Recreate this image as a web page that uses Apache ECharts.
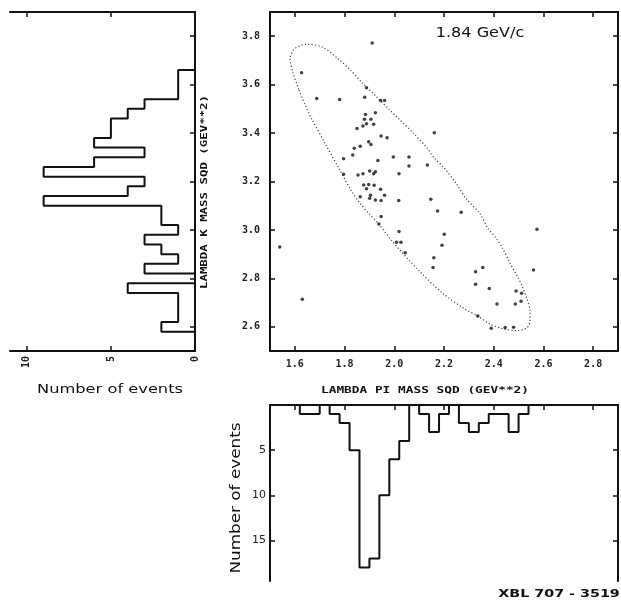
<!DOCTYPE html>
<html>
<head>
<meta charset="utf-8">
<script src="https://cdn.jsdelivr.net/npm/echarts@6/dist/echarts.min.js"></script>
<style>
  html, body { margin: 0; padding: 0; background: #fff; }
  #chart { width: 621px; height: 609px; }
</style>
</head>
<body>
<div id="chart"></div>
<script>
// Λπ and ΛK invariant mass squared (GeV^2) of each event
const lambdaPiSq = [
  1.627, 1.688, 1.780, 1.881, 1.888, 1.911, 1.945, 1.961, 1.884, 1.924,
  1.880, 1.906, 1.888, 1.917, 1.850, 1.874, 1.947, 1.971, 1.897, 1.906,
  1.863, 1.839, 1.833, 1.796, 1.934, 1.996, 2.059, 2.059, 2.133, 2.161,
  1.796, 1.854, 1.874, 1.917, 1.924, 1.901, 2.019, 1.877, 1.897, 1.919,
  1.945, 1.888, 1.863, 1.904, 1.901, 1.924, 1.947, 1.961, 2.018, 2.147,
  2.174, 1.947, 1.938, 2.019, 2.009, 2.027, 2.044, 2.159, 2.156, 2.192,
  1.539, 1.630, 2.269, 2.201, 2.574, 2.356, 2.327, 2.327, 2.382, 2.490,
  2.512, 2.560, 2.413, 2.487, 2.510, 2.336, 2.390, 2.446, 2.480
];
const lambdaKSq = [
  3.649, 3.543, 3.539, 3.548, 3.587, 3.772, 3.535, 3.535, 3.477, 3.484,
  3.457, 3.457, 3.438, 3.436, 3.419, 3.429, 3.388, 3.381, 3.364, 3.353,
  3.346, 3.337, 3.309, 3.294, 3.287, 3.301, 3.301, 3.264, 3.268, 3.401,
  3.230, 3.227, 3.232, 3.232, 3.240, 3.243, 3.232, 3.186, 3.188, 3.185,
  3.168, 3.170, 3.137, 3.143, 3.131, 3.124, 3.122, 3.143, 3.122, 3.127,
  3.078, 3.055, 3.024, 2.993, 2.949, 2.949, 2.906, 2.885, 2.845, 2.937,
  2.930, 2.714, 3.073, 2.982, 3.003, 2.845, 2.827, 2.776, 2.758, 2.748,
  2.739, 2.835, 2.694, 2.694, 2.705, 2.645, 2.594, 2.597, 2.598
];

// kinematic boundary of the Dalitz plot
const boundaryPi = [
  1.617, 1.642, 1.666, 1.723, 1.776, 1.828, 1.862, 1.900, 1.938, 1.990,
  2.100, 2.193, 2.283, 2.335, 2.384, 2.437, 2.494, 2.534, 2.546, 2.546,
  2.534, 2.514, 2.494, 2.465, 2.437, 2.412, 2.376, 2.343, 2.290, 2.250,
  2.201, 2.161, 2.132, 2.080, 2.019, 1.974, 1.930, 1.869, 1.824, 1.776,
  1.711, 1.646, 1.597, 1.581, 1.593, 1.617
];
const boundaryK = [
  3.577, 3.515, 3.462, 3.355, 3.256, 3.161, 3.110, 3.065, 3.024, 2.955,
  2.831, 2.740, 2.674, 2.645, 2.612, 2.592, 2.584, 2.596, 2.625, 2.666,
  2.715, 2.769, 2.810, 2.864, 2.922, 2.963, 3.008, 3.070, 3.128, 3.190,
  3.256, 3.297, 3.338, 3.396, 3.458, 3.503, 3.548, 3.610, 3.660, 3.705,
  3.755, 3.767, 3.746, 3.705, 3.647, 3.577
];

// projections: events per 0.04 GeV^2 bin
const binWidth = 0.04;
const piBinStart = 1.5;
const piCounts = [
  0, 0, 0, 1, 1, 0, 1, 2, 5, 18,
  17, 10, 6, 4, 0, 1, 3, 1, 0, 2,
  3, 2, 1, 1, 3, 1, 0, 0, 0, 0,
  0, 0, 0, 0, 0
];
const kBinStart = 2.5;
const kCounts = [
  0, 0, 2, 1, 1, 1, 4, 0, 3, 1,
  2, 3, 1, 2, 2, 9, 4, 3, 9, 6,
  3, 6, 5, 5, 4, 3, 1, 1, 1, 0,
  0, 0, 0, 0, 0
];

// axis ranges and tick labels
const piRange = [1.5, 2.9];
const kRange = [2.5, 3.9];
const piTicks = [1.6, 1.8, 2.0, 2.2, 2.4, 2.6, 2.8];
const kTicks = [2.6, 2.8, 3.0, 3.2, 3.4, 3.6, 3.8];
const kProjTicks = [0, 5, 10];
const piProjTicks = [5, 10, 15];

// step outlines of the two projections
function stepOutline(start, counts, horizontal) {
  const pts = [];
  const end = start + counts.length * binWidth;
  const push = (m, c) => pts.push(horizontal ? [m, c] : [c, m]);
  push(start, 0);
  counts.forEach((c, i) => {
    const lo = start + i * binWidth;
    push(lo, c);
    push(lo + binWidth, c);
  });
  push(end, 0);
  return pts;
}

const ink = '#111';
const tickFont = { fontFamily: 'DejaVu Sans Mono', fontWeight: 'bold', fontSize: 10, color: '#222' };
const frameLine = { show: true, onZero: false, lineStyle: { color: ink, width: 2 } };
const innerTicks = (vals, len) => ({ show: true, inside: true, length: len || 5, customValues: vals, lineStyle: { color: ink, width: 1.5 } });
const noLabel = { show: false };

const chart = echarts.init(document.getElementById('chart'), null, { renderer: 'canvas' });

const option = {
  backgroundColor: '#ffffff',
  animation: false,
  grid: [
    { left: 270, top: 12, width: 348, height: 339 },
    { left: 10, top: 12, width: 185, height: 339 },
    { left: 270, top: 405, width: 348, height: 176 }
  ],
  xAxis: [
    { gridIndex: 0, type: 'value', position: 'bottom', min: piRange[0], max: piRange[1],
      axisLine: frameLine, axisTick: innerTicks(piTicks), splitLine: { show: false },
      axisLabel: Object.assign({ customValues: piTicks, margin: 8, formatter: v => v.toFixed(1) }, tickFont) },
    { gridIndex: 0, type: 'value', position: 'top', min: piRange[0], max: piRange[1],
      axisLine: frameLine, axisTick: innerTicks(piTicks), splitLine: { show: false }, axisLabel: noLabel },
    { gridIndex: 1, type: 'value', position: 'bottom', min: 0, max: 11, inverse: true,
      axisLine: frameLine, axisTick: innerTicks([5, 10]), splitLine: { show: false },
      axisLabel: Object.assign({ customValues: kProjTicks, rotate: 90, margin: 5 }, tickFont) },
    { gridIndex: 1, type: 'value', position: 'top', min: 0, max: 11, inverse: true,
      axisLine: frameLine, axisTick: innerTicks([5, 10]), splitLine: { show: false }, axisLabel: noLabel },
    { gridIndex: 2, type: 'value', position: 'top', min: piRange[0], max: piRange[1],
      axisLine: frameLine, axisTick: innerTicks(piTicks), splitLine: { show: false }, axisLabel: noLabel }
  ],
  yAxis: [
    { gridIndex: 0, type: 'value', position: 'left', min: kRange[0], max: kRange[1],
      axisLine: frameLine, axisTick: innerTicks(kTicks), splitLine: { show: false },
      axisLabel: Object.assign({ customValues: kTicks, margin: 10, formatter: v => v.toFixed(1) }, tickFont) },
    { gridIndex: 0, type: 'value', position: 'right', min: kRange[0], max: kRange[1],
      axisLine: frameLine, axisTick: innerTicks(kTicks), splitLine: { show: false }, axisLabel: noLabel },
    { gridIndex: 1, type: 'value', position: 'right', min: kRange[0], max: kRange[1],
      axisLine: frameLine, axisTick: innerTicks(kTicks), splitLine: { show: false }, axisLabel: noLabel },
    { gridIndex: 2, type: 'value', position: 'left', min: 0, max: 19.5, inverse: true,
      axisLine: frameLine, axisTick: innerTicks(piProjTicks), splitLine: { show: false },
      axisLabel: Object.assign({ customValues: piProjTicks, margin: 4 }, tickFont, { fontFamily: 'DejaVu Sans', fontWeight: 'normal', fontSize: 11 }) },
    { gridIndex: 2, type: 'value', position: 'right', min: 0, max: 19.5, inverse: true,
      axisLine: frameLine, axisTick: innerTicks(piProjTicks), splitLine: { show: false }, axisLabel: noLabel }
  ],
  series: [
    { type: 'line', xAxisIndex: 0, yAxisIndex: 0, showSymbol: false, symbol: 'none', smooth: 0.3,
      data: boundaryPi.map((x, i) => [x, boundaryK[i]]),
      lineStyle: { color: '#444', width: 1.2, type: [1.2, 2.2] }, silent: true, z: 2 },
    { type: 'scatter', xAxisIndex: 0, yAxisIndex: 0, symbol: 'circle', symbolSize: 3.5,
      data: lambdaPiSq.map((x, i) => [x, lambdaKSq[i]]),
      itemStyle: { color: ink }, silent: true, z: 3 },
    { type: 'line', xAxisIndex: 2, yAxisIndex: 2, showSymbol: false, symbol: 'none',
      data: stepOutline(kBinStart, kCounts, false),
      lineStyle: { color: ink, width: 2 }, silent: true },
    { type: 'line', xAxisIndex: 4, yAxisIndex: 3, showSymbol: false, symbol: 'none',
      data: stepOutline(piBinStart, piCounts, true),
      lineStyle: { color: ink, width: 2 }, silent: true }
  ],
  graphic: [
    { type: 'text', x: 205, y: 192, rotation: Math.PI / 2, scaleX: 1.55,
      style: { text: 'LAMBDA K MASS SQD (GEV**2)', font: 'bold 8px "DejaVu Sans Mono"', fill: ink, align: 'center', verticalAlign: 'middle' } },
    { type: 'text', x: 425, y: 391, scaleX: 1.6,
      style: { text: 'LAMBDA PI MASS SQD (GEV**2)', font: 'bold 8px "DejaVu Sans Mono"', fill: ink, align: 'center', verticalAlign: 'middle' } },
    { type: 'text', x: 110, y: 390, scaleX: 1.25,
      style: { text: 'Number of events', font: '13px "DejaVu Sans"', fill: ink, align: 'center', verticalAlign: 'middle' } },
    { type: 'text', x: 236, y: 498, rotation: Math.PI / 2, scaleX: 1.2,
      style: { text: 'Number of events', font: '14px "DejaVu Sans"', fill: ink, align: 'center', verticalAlign: 'middle' } },
    { type: 'text', x: 480, y: 33, scaleX: 1.15,
      style: { text: '1.84 GeV/c', font: '14px "DejaVu Sans"', fill: ink, align: 'center', verticalAlign: 'middle' } },
    { type: 'text', x: 559, y: 594, scaleX: 1.3,
      style: { text: 'XBL 707 - 3519', font: 'bold 11px "DejaVu Sans"', fill: ink, align: 'center', verticalAlign: 'middle' } }
  ]
};

chart.setOption(option);
</script>
</body>
</html>
